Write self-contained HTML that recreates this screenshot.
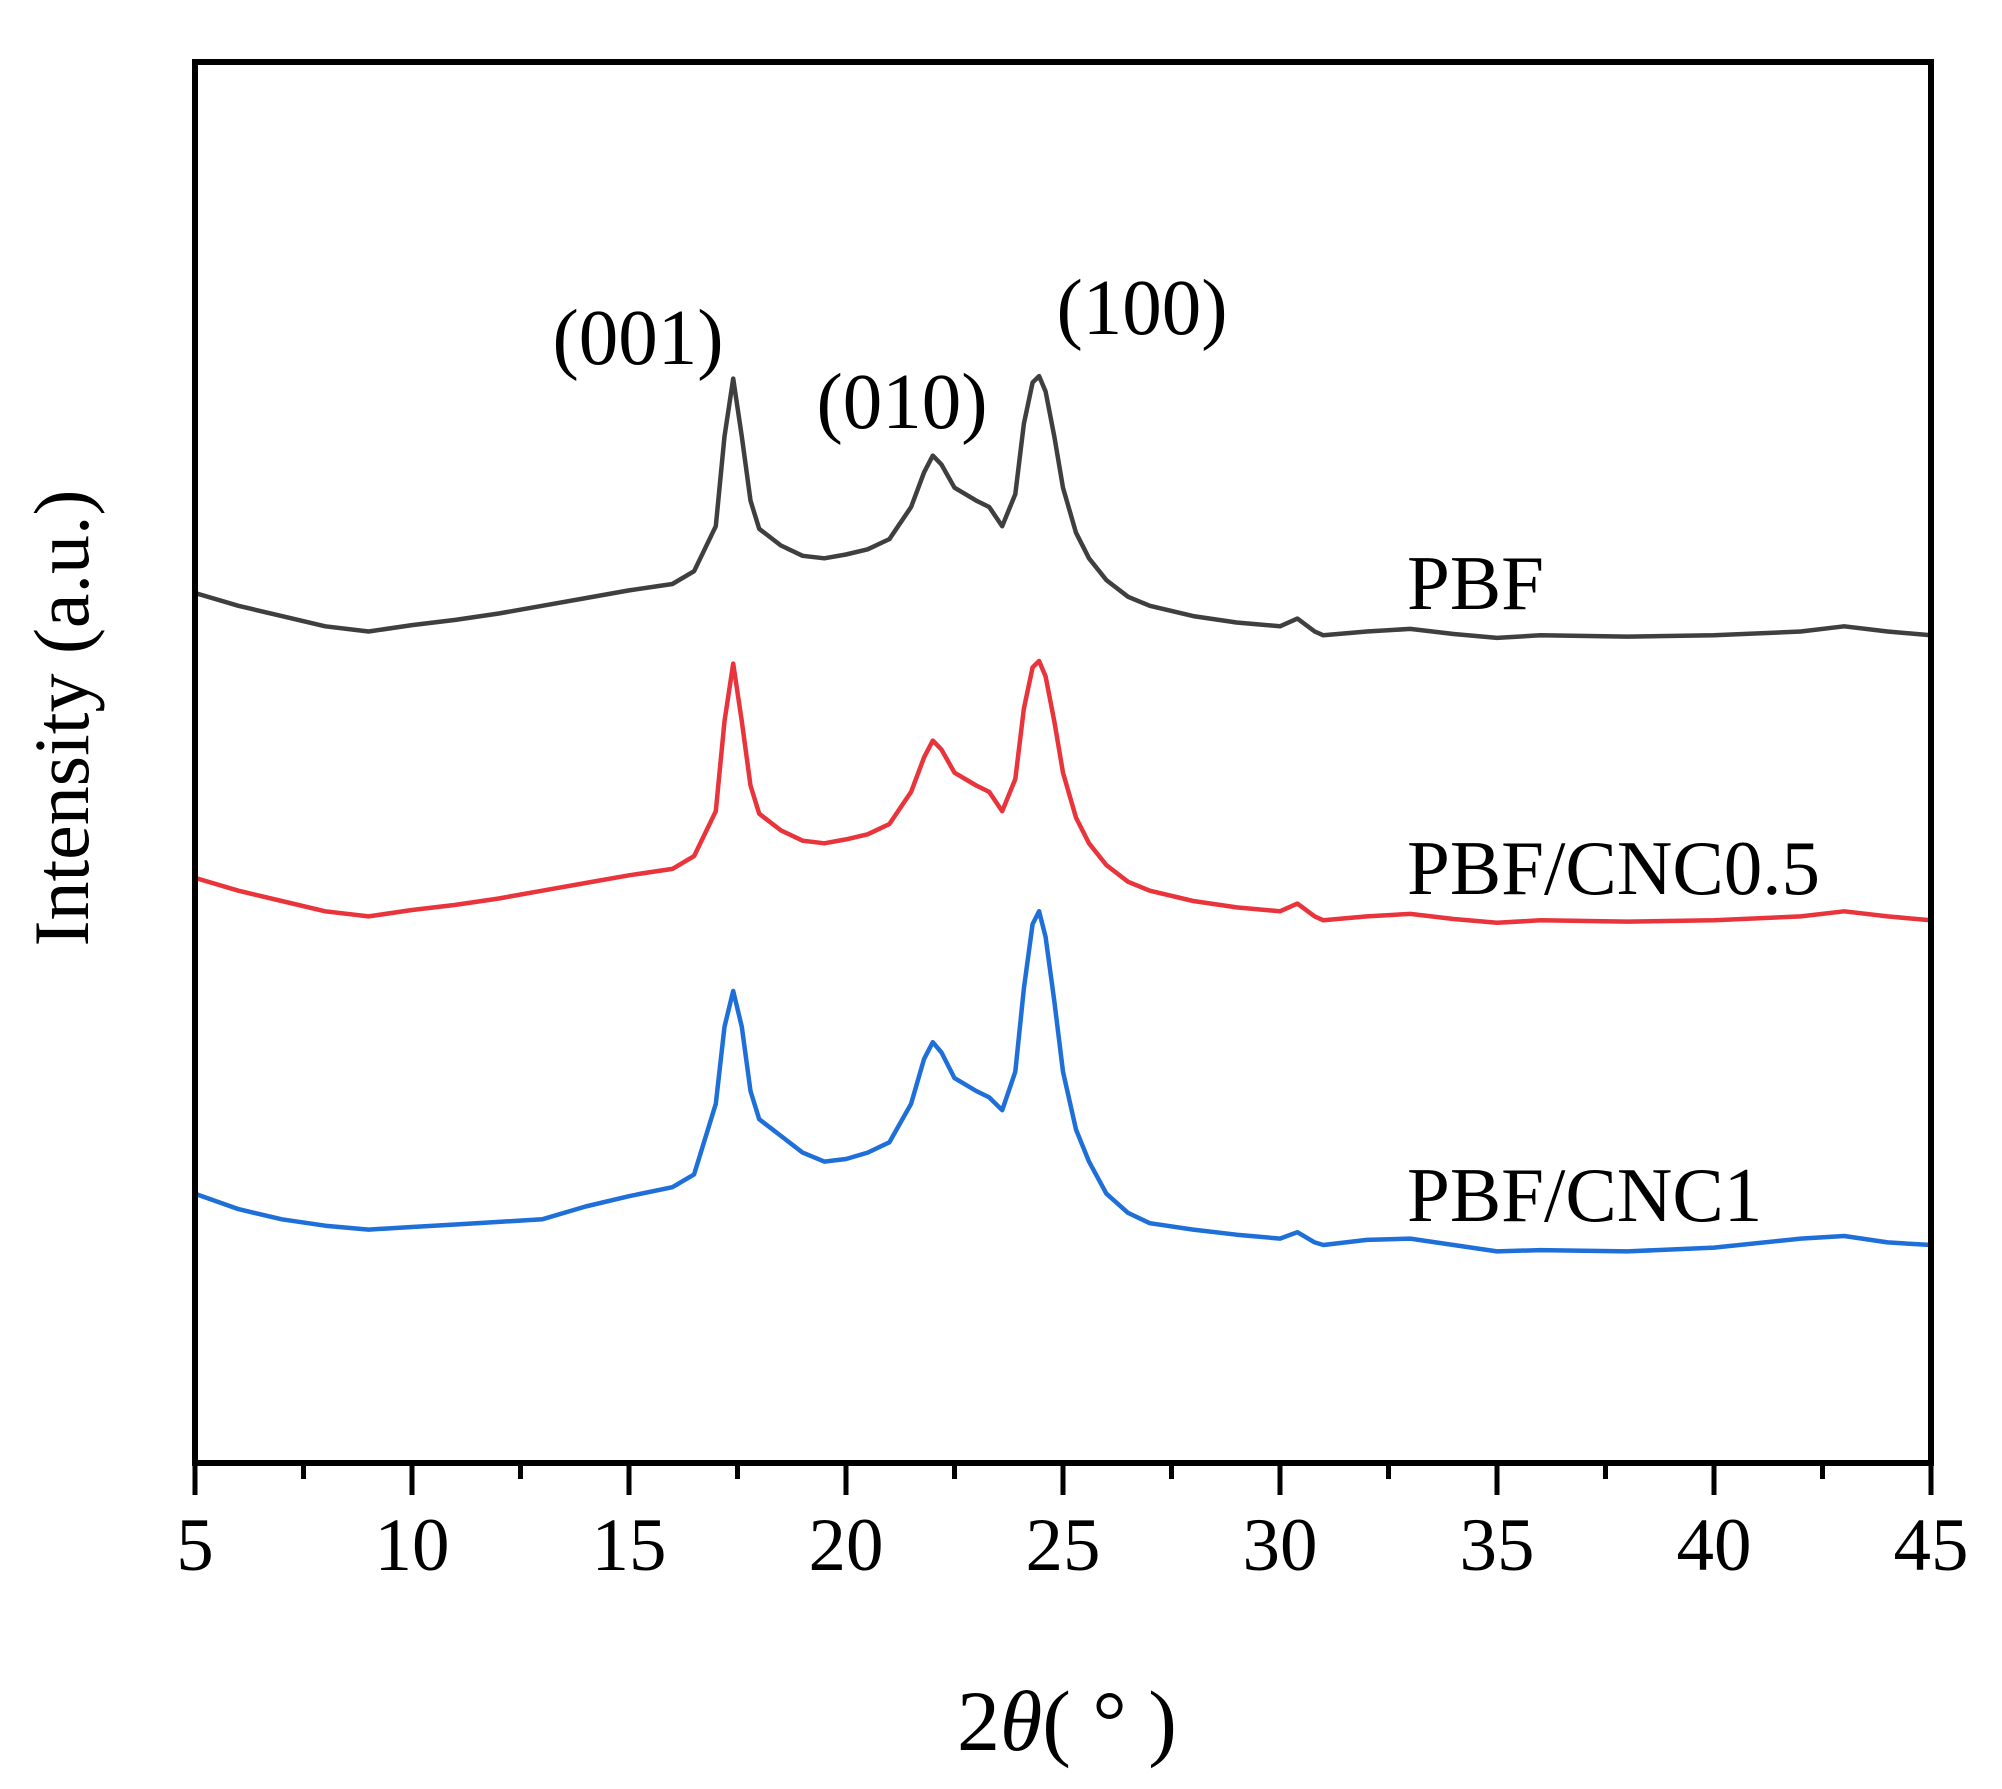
<!DOCTYPE html>
<html><head><meta charset="utf-8"><style>
html,body{margin:0;padding:0;background:#fff;}
svg text{font-family:"Liberation Serif",serif;fill:#000;}
</style></head><body>
<svg id="chart" width="2002" height="1784" viewBox="0 0 2002 1784" xmlns="http://www.w3.org/2000/svg">
<g id="series"></g>
<g id="axes"></g>
<text x="638" y="364" font-size="79" text-anchor="middle">(001)</text>
<text x="902" y="428" font-size="79" text-anchor="middle">(010)</text>
<text x="1142" y="334" font-size="79" text-anchor="middle">(100)</text>
<text x="1407" y="609" font-size="77">PBF</text>
<text x="1407" y="894" font-size="77">PBF/CNC0.5</text>
<text x="1407" y="1221" font-size="77">PBF/CNC1</text>
<text x="1067" y="1750" font-size="86" text-anchor="middle">2<tspan font-style="italic">θ</tspan>( ° )</text>
<text transform="translate(88,718) rotate(-90)" font-size="78" text-anchor="middle">Intensity (a.u.)</text>
</svg>
<script>
const twoTheta=[5,6,7,8,9,10,11,12,13,14,15,16,16.5,17,17.2,17.4,17.6,17.8,18,18.5,19,19.5,20,20.5,21,21.5,21.8,22,22.2,22.5,23,23.3,23.6,23.9,24.1,24.3,24.45,24.6,24.8,25,25.3,25.6,26,26.5,27,28,29,30,30.4,30.8,31,32,33,34,35,36,38,40,42,43,44,45];
// intensity in inverted display units (larger = lower on the page)
const pbf=[462,472,480,488,492,487,483,478,472,466,460,455,445,410,340,295,340,390,412,425,433,435,432,428,420,395,368,355,362,380,390,395,410,385,330,298,293,305,340,380,415,435,452,465,472,480,485,488,482,492,495,492,490,494,497,495,496,495,492,488,492,495];
const pbfCnc05=[684,694,702,710,714,709,705,700,694,688,682,677,667,632,562,517,562,612,634,647,655,657,654,650,642,617,590,577,584,602,612,617,632,607,552,520,515,527,562,602,637,657,674,687,694,702,707,710,704,714,717,714,712,716,719,717,718,717,714,710,714,717];
const pbfCnc1=[930,942,950,955,958,956,954,952,950,940,932,925,915,860,800,772,800,850,872,885,898,905,903,898,890,860,825,812,820,840,850,855,865,835,770,720,710,730,780,835,880,905,930,945,953,958,962,965,960,968,970,966,965,970,975,974,975,972,965,963,968,970];
const xTicks=[5,10,15,20,25,30,35,40,45];
const xMinor=[7.5,12.5,17.5,22.5,27.5,32.5,37.5,42.5];

const L=195,R=1931,T=62,B=1463;
const NS="http://www.w3.org/2000/svg";
function xs(v){return L+(v-5)/(45-5)*(R-L);}
function ys(v){return v*1.2835;}
const sg=document.getElementById('series');
function drawSeries(arr,color,name){
  const p=document.createElementNS(NS,'path');
  let d='';
  for(let i=0;i<twoTheta.length;i++){d+=(i?'L':'M')+xs(twoTheta[i]).toFixed(1)+','+ys(arr[i]).toFixed(1);}
  p.setAttribute('d',d);
  p.setAttribute('fill','none');
  p.setAttribute('stroke',color);
  p.setAttribute('stroke-width','4.5');
  p.setAttribute('stroke-linejoin','round');
  
  
  sg.appendChild(p);
}
drawSeries(pbf,'#3f3f3f','series-pbf');
drawSeries(pbfCnc05,'#e8343a','series-pbf-cnc05');
drawSeries(pbfCnc1,'#1f6fd9','series-pbf-cnc1');

const ag=document.getElementById('axes');
const frame=document.createElementNS(NS,'rect');
frame.setAttribute('x',L);frame.setAttribute('y',T);frame.setAttribute('width',R-L);frame.setAttribute('height',B-T);
frame.setAttribute('fill','none');frame.setAttribute('stroke','#000');frame.setAttribute('stroke-width','6');


ag.appendChild(frame);
function tick(v,len,name){
  const l=document.createElementNS(NS,'line');
  l.setAttribute('x1',xs(v));l.setAttribute('x2',xs(v));l.setAttribute('y1',B);l.setAttribute('y2',B+len);
  l.setAttribute('stroke','#000');l.setAttribute('stroke-width','5');
  
  
  ag.appendChild(l);
}
xTicks.forEach(v=>{
  tick(v,32,'x-major-tick');
  const t=document.createElementNS(NS,'text');
  t.setAttribute('x',xs(v));t.setAttribute('y',1570);t.setAttribute('font-size','75');t.setAttribute('text-anchor','middle');
  t.textContent=v;
  
  
  ag.appendChild(t);
});
xMinor.forEach(v=>tick(v,16,'x-minor-tick'));
</script>
</body></html>
